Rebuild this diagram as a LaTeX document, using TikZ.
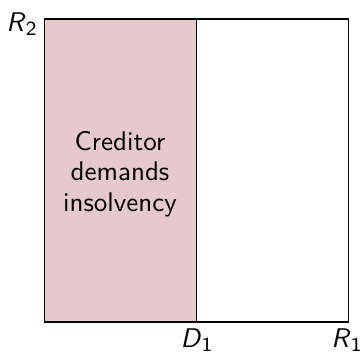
\documentclass[tikz,border=0pt]{standalone}
\begin{document}
\begin{tikzpicture}[x=0.4pt,y=-0.4pt,
  lbl/.style={font=\sffamily\fontsize{10.8}{12.2}\selectfont,inner sep=0pt},
  region/.style={fill={rgb,255:red,229;green,201;blue,205}}]
\useasboundingbox (0,0) rectangle (360,354);
\coordinate (TL) at (44.5,19);
\coordinate (BR) at (348.5,322);
\coordinate (DT) at (196,19);
\coordinate (DB) at (196,322);
\fill[region] (TL) rectangle (DB);
\draw[line width=0.4pt] (DT) -- (DB);
\draw[line width=0.65pt] (TL) rectangle (BR);
\node[lbl,align=center] (txt) at (120,174) {Creditor\\demands\\insolvency};
\node[lbl] (r2) at (22,24) {\textit{R}$_{\mathsf{2}}$};
\node[lbl] (d1) at (197,340) {\textit{D}$_{\mathsf{1}}$};
\node[lbl] (r1) at (347,340) {\textit{R}$_{\mathsf{1}}$};
\end{tikzpicture}
\end{document}
